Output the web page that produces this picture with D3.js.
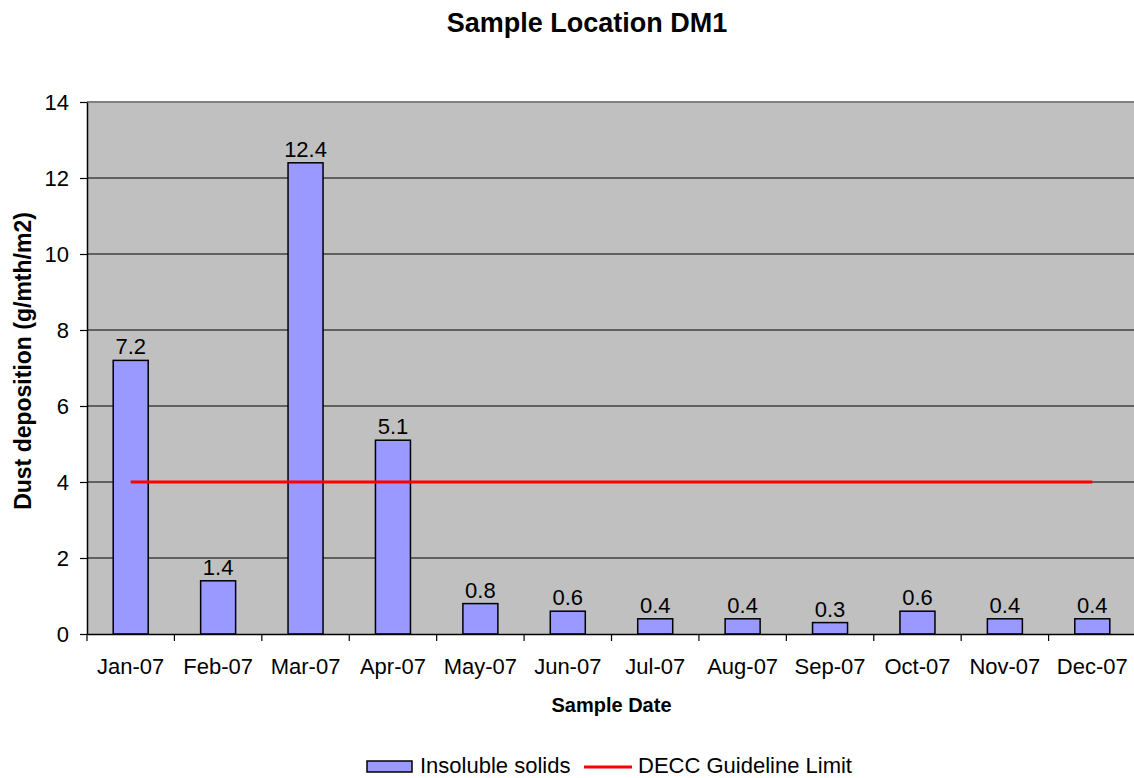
<!DOCTYPE html>
<html>
<head>
<meta charset="utf-8">
<script src="https://cdn.jsdelivr.net/npm/d3@7"></script>
<style>
  html, body { margin: 0; padding: 0; background: #fff; }
  svg { display: block; font-family: "Liberation Sans", Arial, sans-serif; }
</style>
</head>
<body>
<svg id="chart" width="1134" height="778"></svg>
<script>
// Monthly dust deposition at sample location DM1
const months = ["Jan-07", "Feb-07", "Mar-07", "Apr-07", "May-07", "Jun-07",
                "Jul-07", "Aug-07", "Sep-07", "Oct-07", "Nov-07", "Dec-07"];
const insolubleSolids = [7.2, 1.4, 12.4, 5.1, 0.8, 0.6, 0.4, 0.4, 0.3, 0.6, 0.4, 0.4];
const guidelineLimit = [4, 4, 4, 4, 4, 4, 4, 4, 4, 4, 4, 4];
const yTicks = [0, 2, 4, 6, 8, 10, 12, 14];

const svg = d3.select("#chart");
const plot = { left: 87, top: 102, right: 1136, bottom: 634 };
const FONT = "Liberation Sans, Arial, sans-serif";

const x = d3.scaleBand().domain(months).range([plot.left, plot.right]).paddingInner(0).paddingOuter(0);
const y = d3.scaleLinear().domain([0, 14]).range([plot.bottom, plot.top]);
const barW = 35;

// Plot background
svg.append("rect")
  .attr("x", plot.left).attr("y", plot.top)
  .attr("width", plot.right - plot.left).attr("height", plot.bottom - plot.top)
  .attr("fill", "#c0c0c0");

// Horizontal gridlines
svg.append("g").selectAll("line")
  .data(yTicks.filter(t => t > 0 && t < 14))
  .join("line")
  .attr("x1", plot.left).attr("x2", plot.right)
  .attr("y1", d => y(d)).attr("y2", d => y(d))
  .attr("stroke", "#000").attr("stroke-width", 1.2);

// Top border of plot area
svg.append("line")
  .attr("x1", plot.left).attr("x2", plot.right)
  .attr("y1", y(14)).attr("y2", y(14))
  .attr("stroke", "#808080").attr("stroke-width", 2);

// Bars
svg.append("g").selectAll("rect")
  .data(months.map((m, i) => ({ m, v: insolubleSolids[i] })))
  .join("rect")
  .attr("x", d => x(d.m) + (x.bandwidth() - barW) / 2)
  .attr("y", d => y(d.v))
  .attr("width", barW)
  .attr("height", d => y(0) - y(d.v))
  .attr("fill", "#9999ff")
  .attr("stroke", "#000").attr("stroke-width", 1.5);

// Guideline limit line
const line = d3.line()
  .x((d, i) => x(months[i]) + x.bandwidth() / 2)
  .y(d => y(d));
svg.append("path")
  .datum(guidelineLimit)
  .attr("d", line)
  .attr("fill", "none")
  .attr("stroke", "#ff0000").attr("stroke-width", 3);

// Value labels
svg.append("g").selectAll("text")
  .data(months.map((m, i) => ({ m, v: insolubleSolids[i] })))
  .join("text")
  .attr("x", d => x(d.m) + x.bandwidth() / 2)
  .attr("y", d => y(d.v) - 6)
  .attr("text-anchor", "middle")
  .attr("font-size", 22)
  .attr("fill", "#000")
  .text(d => d.v);

// Y axis
const yAxis = svg.append("g")
  .attr("transform", `translate(${plot.left},0)`)
  .call(d3.axisLeft(y).tickValues(yTicks).tickSize(7).tickSizeOuter(0).tickFormat(d3.format("d")));
yAxis.select(".domain").attr("stroke", "#000").attr("stroke-width", 1.5);
yAxis.selectAll(".tick line").attr("stroke", "#000").attr("stroke-width", 1.2);
yAxis.selectAll(".tick text").attr("font-size", 22).attr("fill", "#000").attr("x", -18)
  .attr("font-family", FONT);

// X axis
const xAxis = svg.append("g")
  .attr("transform", `translate(0,${plot.bottom})`)
  .call(d3.axisBottom(x).tickSize(0).tickSizeOuter(0));
xAxis.select(".domain").attr("stroke", "#000").attr("stroke-width", 1.5);
xAxis.selectAll(".tick text").attr("font-size", 22).attr("fill", "#000").attr("dy", 0).attr("y", 40)
  .attr("font-family", FONT);
// Category boundary ticks
svg.append("g").selectAll("line")
  .data(months)
  .join("line")
  .attr("x1", d => x(d)).attr("x2", d => x(d))
  .attr("y1", plot.bottom).attr("y2", plot.bottom + 7)
  .attr("stroke", "#000").attr("stroke-width", 1.2);

// Titles
svg.append("text")
  .attr("x", 587).attr("y", 32)
  .attr("text-anchor", "middle")
  .attr("font-size", 27).attr("font-weight", "bold")
  .text("Sample Location DM1");

svg.append("text")
  .attr("x", (plot.left + plot.right) / 2).attr("y", 712)
  .attr("text-anchor", "middle")
  .attr("font-size", 20).attr("font-weight", "bold")
  .text("Sample Date");

svg.append("text")
  .attr("transform", `translate(31,${(plot.top + plot.bottom) / 2 - 7}) rotate(-90)`)
  .attr("text-anchor", "middle")
  .attr("font-size", 23).attr("font-weight", "bold")
  .text("Dust deposition (g/mth/m2)");

// Legend
const legend = svg.append("g");
legend.append("rect")
  .attr("x", 367).attr("y", 761).attr("width", 45).attr("height", 11)
  .attr("fill", "#9999ff").attr("stroke", "#000").attr("stroke-width", 1.5);
legend.append("text")
  .attr("x", 420).attr("y", 773)
  .attr("font-size", 22)
  .text("Insoluble solids");
legend.append("line")
  .attr("x1", 584).attr("x2", 632).attr("y1", 767).attr("y2", 767)
  .attr("stroke", "#ff0000").attr("stroke-width", 3);
legend.append("text")
  .attr("x", 638).attr("y", 773)
  .attr("font-size", 22)
  .text("DECC Guideline Limit");
</script>
</body>
</html>
